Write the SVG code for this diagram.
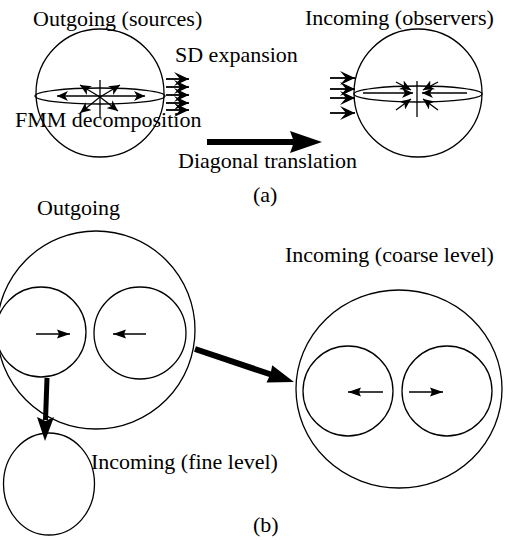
<svg xmlns="http://www.w3.org/2000/svg" width="505" height="540" viewBox="0 0 505 540">
<style>
  text { font-family: "Liberation Serif", "Times New Roman", serif; font-size: 22px; fill: #000; }
  .c { fill: none; stroke: #000; stroke-width: 1.3; }
  .t { stroke: #000; stroke-width: 1.3; fill: none; }
  .z { stroke: #000; stroke-width: 1.8; fill: none; }
  .s { stroke: #000; stroke-width: 1.6; fill: none; }
  .b { stroke: #000; fill: none; }
  .h { fill: #000; stroke: none; }
</style>
<defs>
  <marker id="ah" markerUnits="userSpaceOnUse" markerWidth="12" markerHeight="10" refX="11" refY="5" orient="auto">
    <path d="M0,0 L11,5 L0,10 L3,5 z" fill="#000"/>
  </marker>
  <marker id="ahz" markerUnits="userSpaceOnUse" markerWidth="16" markerHeight="14" refX="15" refY="7" orient="auto">
    <path d="M0,0 L15,7 L0,14 L6,7 z" fill="#000"/>
  </marker>
  <marker id="ahs" markerUnits="userSpaceOnUse" markerWidth="14" markerHeight="10" refX="13" refY="5" orient="auto">
    <path d="M0,0.5 L13,5 L0,9.5 L2,5 z" fill="#000"/>
  </marker>
</defs>

<g id="outgoing-sources">
  <circle class="c" cx="100" cy="93" r="64"/>
  <ellipse class="c" cx="100" cy="96" rx="65" ry="8"/>
  <line class="t" x1="100" y1="80" x2="100" y2="117"/>
  <line class="t" x1="100" y1="96" x2="57" y2="96" marker-end="url(#ah)"/>
  <line class="t" x1="100" y1="96" x2="145" y2="96" marker-end="url(#ah)"/>
  <line class="t" x1="100" y1="97" x2="80" y2="85" marker-end="url(#ah)"/>
  <line class="t" x1="100" y1="97" x2="120" y2="85" marker-end="url(#ah)"/>
  <line class="t" x1="100" y1="97" x2="80" y2="113" marker-end="url(#ah)"/>
  <line class="t" x1="100" y1="97" x2="118" y2="111" marker-end="url(#ah)"/>
  <text x="33" y="26">Outgoing (sources)</text>
</g>

<g id="sd-expansion-out">
  <line class="z" x1="166" y1="79" x2="189" y2="79" marker-end="url(#ahz)"/>
  <line class="z" x1="166" y1="87" x2="189" y2="87" marker-end="url(#ahz)"/>
  <line class="z" x1="166" y1="95" x2="189" y2="95" marker-end="url(#ahz)"/>
  <line class="z" x1="166" y1="103" x2="189" y2="103" marker-end="url(#ahz)"/>
  <line class="z" x1="166" y1="110" x2="189" y2="110" marker-end="url(#ahz)"/>
</g>

<g id="incoming-observers">
  <circle class="c" cx="418" cy="93" r="64"/>
  <ellipse class="c" cx="418" cy="94" rx="64" ry="8"/>
  <line class="t" x1="417" y1="81" x2="417" y2="117"/>
  <line class="t" x1="363" y1="93" x2="413" y2="93" marker-end="url(#ah)"/>
  <line class="t" x1="467" y1="93" x2="422" y2="93" marker-end="url(#ah)"/>
  <line class="t" x1="396" y1="82" x2="411" y2="90" marker-end="url(#ah)"/>
  <line class="t" x1="438" y1="82" x2="423" y2="90" marker-end="url(#ah)"/>
  <line class="t" x1="396" y1="110" x2="411" y2="99" marker-end="url(#ah)"/>
  <line class="t" x1="438" y1="110" x2="423" y2="99" marker-end="url(#ah)"/>
  <text x="305" y="25">Incoming (observers)</text>
</g>

<g id="sd-expansion-in">
  <line class="z" x1="330" y1="78" x2="355" y2="78" marker-end="url(#ahz)"/>
  <line class="z" x1="330" y1="89" x2="355" y2="89" marker-end="url(#ahz)"/>
  <line class="z" x1="330" y1="98" x2="355" y2="98" marker-end="url(#ahz)"/>
  <line class="z" x1="330" y1="113" x2="355" y2="113" marker-end="url(#ahz)"/>
</g>

<g id="labels-a">
  <text x="175" y="62">SD expansion</text>
  <text x="15" y="127">FMM decomposition</text>
  <text x="178" y="168">Diagonal translation</text>
  <text x="253" y="202">(a)</text>
</g>

<g id="outgoing">
  <circle class="c" cx="96" cy="330" r="99"/>
  <circle class="c" cx="41" cy="332" r="45"/>
  <circle class="c" cx="140" cy="333" r="46"/>
  <line class="s" x1="36" y1="334" x2="70" y2="334" marker-end="url(#ahs)"/>
  <line class="s" x1="146" y1="334" x2="113" y2="334" marker-end="url(#ahs)"/>
  <text x="37" y="215">Outgoing</text>
</g>

<g id="incoming-fine">
  <ellipse class="c" cx="49" cy="484" rx="45.5" ry="51"/>
  <text x="91" y="469">Incoming (fine level)</text>
</g>

<g id="incoming-coarse">
  <ellipse class="c" cx="399" cy="389" rx="103" ry="99"/>
  <circle class="c" cx="348" cy="391" r="45"/>
  <circle class="c" cx="447" cy="391" r="45"/>
  <line class="s" x1="383" y1="392" x2="348" y2="392" marker-end="url(#ahs)"/>
  <line class="s" x1="409" y1="392" x2="443" y2="392" marker-end="url(#ahs)"/>
  <text x="285" y="262">Incoming (coarse level)</text>
</g>

<g id="connectors">
  <line class="b" stroke-width="6" x1="207" y1="142" x2="295" y2="142"/>
  <path class="h" d="M290,131 L322,142 L290,153 L294,142 z"/>
  <line class="b" stroke-width="5" x1="47" y1="378" x2="45.5" y2="420"/>
  <path class="h" d="M37,417 L45,441 L54,417 L45.5,421 z"/>
  <line class="b" stroke-width="6" x1="195" y1="349" x2="271" y2="374.5"/>
  <path class="h" d="M266.5,382.5 L294,382 L272.2,365.3 L270.5,374 z"/>
</g>

<text x="253" y="532">(b)</text>
</svg>
